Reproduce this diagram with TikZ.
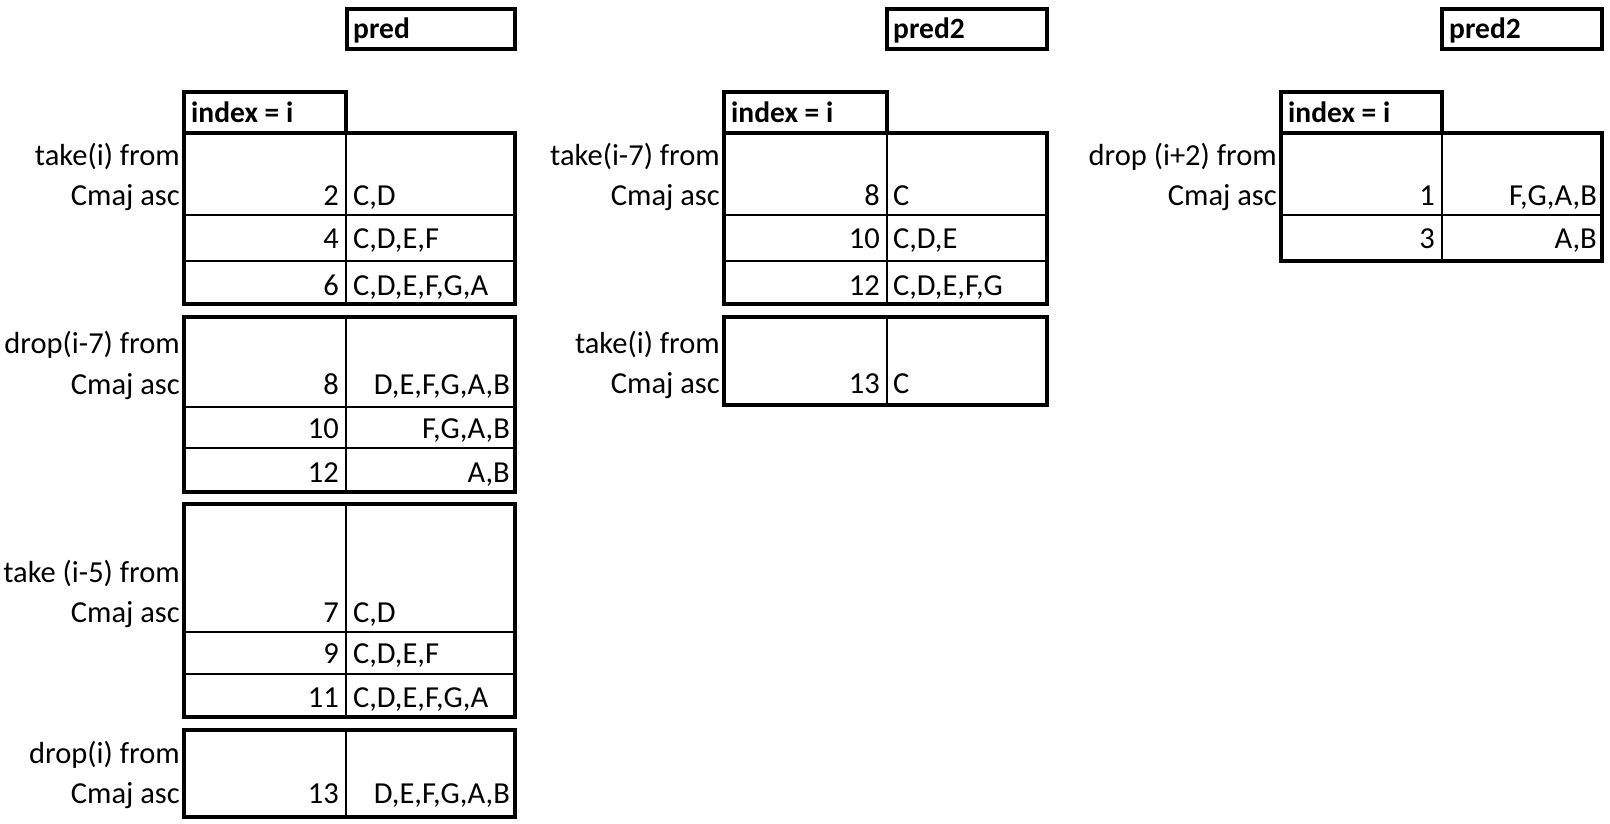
\documentclass[tikz,border=0pt]{standalone}
\usepackage{fontspec}
\setmainfont{Carlito}
\begin{document}
\begin{tikzpicture}[x=1pt,y=-1pt,
  txt/.style={inner sep=0pt,font=\fontsize{30.5}{34}\selectfont},
  rt/.style={txt,anchor=base east},
  lt/.style={txt,anchor=base west},
  hd/.style={inner sep=0pt,anchor=base west,font=\fontsize{29.5}{33}\selectfont\bfseries},
  thickbox/.style={line width=4pt},
  thinline/.style={line width=2pt}]
\useasboundingbox (0,0) rectangle (1610,824);

% ================= left table =================
\draw[thickbox] (347,9) rectangle (515,49);
\node[hd] (pA) at (353,39) {pred};
\draw[thickbox] (184,92) rectangle (346,133);
\node[hd] (iA) at (191,123) {index = i};
% block 1
\draw[thinline] (184,215) -- (515,215) (184,261) -- (515,261) (346,133) -- (346,304);
\draw[thickbox] (184,133) rectangle (515,304);
\node[rt] (a1l1) at (180,166) {take(i) from};
\node[rt] (a1l2) at (180,205) {Cmaj asc};
\node[rt] (a1n1) at (339,205) {2};
\node[lt] (a1v1) at (353,205) {C,D};
\node[rt] (a1n2) at (339,248) {4};
\node[lt] (a1v2) at (353,248) {C,D,E,F};
\node[rt] (a1n3) at (339,295) {6};
\node[lt] (a1v3) at (353,295) {C,D,E,F,G,A};
% block 2
\draw[thinline] (184,407) -- (515,407) (184,448) -- (515,448) (346,317) -- (346,492);
\draw[thickbox] (184,317) rectangle (515,492);
\node[rt] (a2l1) at (180,353) {drop(i-7) from};
\node[rt] (a2l2) at (180,394) {Cmaj asc};
\node[rt] (a2n1) at (339,394) {8};
\node[rt] (a2v1) at (510,394) {D,E,F,G,A,B};
\node[rt] (a2n2) at (339,438) {10};
\node[rt] (a2v2) at (510,438) {F,G,A,B};
\node[rt] (a2n3) at (339,482) {12};
\node[rt] (a2v3) at (510,482) {A,B};
% block 3
\draw[thinline] (184,632) -- (515,632) (184,674) -- (515,674) (346,504) -- (346,717);
\draw[thickbox] (184,504) rectangle (515,717);
\node[rt] (a3l1) at (180,582) {take (i-5) from};
\node[rt] (a3l2) at (180,622) {Cmaj asc};
\node[rt] (a3n1) at (339,622) {7};
\node[lt] (a3v1) at (353,622) {C,D};
\node[rt] (a3n2) at (339,663) {9};
\node[lt] (a3v2) at (353,663) {C,D,E,F};
\node[rt] (a3n3) at (339,707) {11};
\node[lt] (a3v3) at (353,707) {C,D,E,F,G,A};
% block 4
\draw[thinline] (346,730) -- (346,817);
\draw[thickbox] (184,730) rectangle (515,817);
\node[rt] (a4l1) at (180,763) {drop(i) from};
\node[rt] (a4l2) at (180,803) {Cmaj asc};
\node[rt] (a4n1) at (339,803) {13};
\node[rt] (a4v1) at (510,803) {D,E,F,G,A,B};

% ================= middle table =================
\draw[thickbox] (887,9) rectangle (1047,49);
\node[hd] (pB) at (893,39) {pred2};
\draw[thickbox] (724,92) rectangle (887,133);
\node[hd] (iB) at (731,123) {index = i};
\draw[thinline] (724,215) -- (1047,215) (724,261) -- (1047,261) (887,133) -- (887,304);
\draw[thickbox] (724,133) rectangle (1047,304);
\node[rt] (b1l1) at (720,166) {take(i-7) from};
\node[rt] (b1l2) at (720,205) {Cmaj asc};
\node[rt] (b1n1) at (880,205) {8};
\node[lt] (b1v1) at (893,205) {C};
\node[rt] (b1n2) at (880,248) {10};
\node[lt] (b1v2) at (893,248) {C,D,E};
\node[rt] (b1n3) at (880,295) {12};
\node[lt] (b1v3) at (893,295) {C,D,E,F,G};
\draw[thinline] (887,317) -- (887,405);
\draw[thickbox] (724,317) rectangle (1047,405);
\node[rt] (b2l1) at (720,353) {take(i) from};
\node[rt] (b2l2) at (720,393) {Cmaj asc};
\node[rt] (b2n1) at (880,393) {13};
\node[lt] (b2v1) at (893,393) {C};

% ================= right table =================
\draw[thickbox] (1442,9) rectangle (1602,49);
\node[hd] (pC) at (1449,39) {pred2};
\draw[thickbox] (1281,92) rectangle (1442,133);
\node[hd] (iC) at (1288,123) {index = i};
\draw[thinline] (1281,215) -- (1602,215) (1442,133) -- (1442,261);
\draw[thickbox] (1281,133) rectangle (1602,261);
\node[rt] (c1l1) at (1277,166) {drop (i+2) from};
\node[rt] (c1l2) at (1277,205) {Cmaj asc};
\node[rt] (c1n1) at (1435,205) {1};
\node[rt] (c1v1) at (1597,205) {F,G,A,B};
\node[rt] (c1n2) at (1435,248) {3};
\node[rt] (c1v2) at (1597,248) {A,B};
\end{tikzpicture}
\end{document}
